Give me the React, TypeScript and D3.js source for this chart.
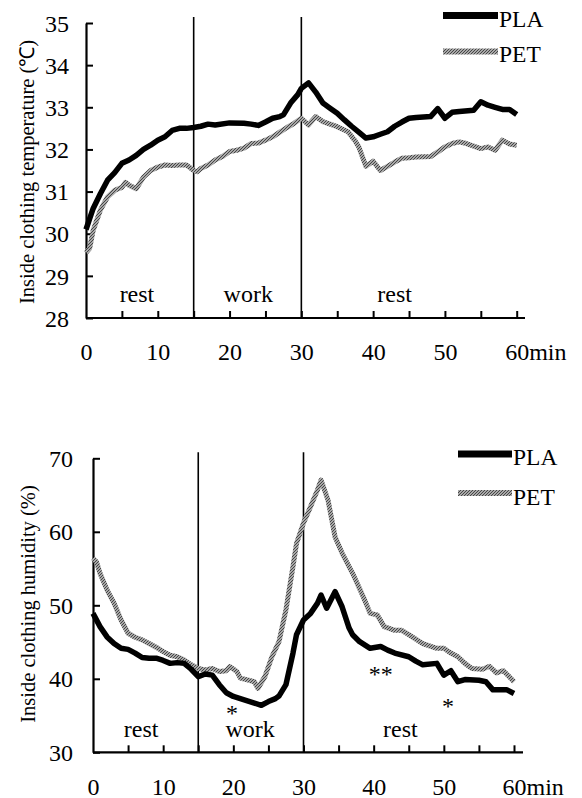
import React, { useEffect, useRef } from "react";
import * as d3 from "d3";

// [minute, value] pairs
const plaTemp: [number, number][] = [
  [0, 30.1], [0.5, 30.35], [1, 30.6], [2, 30.95], [3, 31.27], [4, 31.45], [5, 31.67], [6, 31.75],
  [7, 31.86], [8, 32.0], [9, 32.1], [10, 32.22], [11, 32.3], [12, 32.45], [13, 32.5], [14, 32.5],
  [15, 32.52], [16, 32.55], [17, 32.6], [18, 32.58], [20, 32.63], [22, 32.62], [23, 32.6], [24, 32.57],
  [25, 32.65], [26, 32.74], [27, 32.78], [27.5, 32.82], [28.5, 33.1], [29.5, 33.3], [30, 33.45],
  [31, 33.58], [32, 33.36], [33, 33.1], [34, 32.98], [35, 32.86], [36, 32.7], [37, 32.55], [38, 32.41],
  [39, 32.27], [40, 32.3], [41, 32.36], [42, 32.42], [43, 32.55], [44, 32.65], [45, 32.74], [46, 32.76],
  [48, 32.78], [49, 32.97], [50, 32.74], [51, 32.88], [52, 32.9], [54, 32.93], [55, 33.13], [56, 33.05],
  [57, 33.0], [58, 32.95], [59, 32.95], [60, 32.83],
];

const petTemp: [number, number][] = [
  [0, 29.55], [0.5, 29.65], [1, 30.08], [2, 30.56], [3, 30.87], [4, 31.03], [5, 31.1], [5.5, 31.22],
  [6, 31.15], [7, 31.07], [8, 31.34], [9, 31.5], [10, 31.58], [11, 31.63], [12, 31.62], [13, 31.63],
  [14, 31.63], [15, 31.5], [15.5, 31.47], [16, 31.55], [17, 31.63], [18, 31.75], [19, 31.83], [20, 31.95],
  [21, 31.98], [22, 32.03], [23, 32.14], [24, 32.15], [25, 32.22], [26, 32.3], [27, 32.41], [28, 32.52],
  [29, 32.62], [30, 32.74], [31, 32.58], [32, 32.78], [33, 32.66], [34, 32.6], [35, 32.54], [36.5, 32.42],
  [37.5, 32.2], [38, 32.06], [39, 31.6], [40, 31.72], [41, 31.5], [42, 31.6], [43, 31.7], [44, 31.79],
  [45, 31.8], [46, 31.82], [48, 31.83], [49, 31.94], [50, 32.06], [51, 32.14], [52, 32.18], [53, 32.14],
  [54, 32.08], [55, 32.02], [56, 32.06], [57, 31.98], [58, 32.22], [59, 32.13], [60, 32.1],
];

const plaHum: [number, number][] = [
  [0, 48.9], [1, 47.1], [2, 45.7], [3, 44.8], [4, 44.15], [5, 44.0], [6, 43.5], [7, 42.9], [8, 42.8],
  [9, 42.8], [10, 42.5], [11, 42.1], [12, 42.2], [13, 42.1], [14, 41.3], [15, 40.3], [16, 40.65],
  [17, 40.5], [18, 39.2], [19, 38.1], [20, 37.6], [21, 37.3], [22, 37.0], [23, 36.7], [24, 36.4],
  [25, 36.9], [26, 37.3], [26.5, 37.65], [27.5, 39.2], [28.5, 43.5], [29, 46.0], [30, 48.0], [31, 48.9],
  [32, 50.3], [32.5, 51.4], [33.3, 49.6], [34.5, 51.85], [35.5, 49.8], [36.5, 46.9], [37, 46.0],
  [38, 45.05], [39.5, 44.15], [41, 44.4], [42, 43.9], [43, 43.5], [45, 43.0], [46, 42.4], [47, 41.9],
  [49, 42.1], [50, 40.5], [51, 41.1], [52, 39.6], [53, 39.9], [55, 39.8], [56, 39.6], [57, 38.5],
  [58, 38.5], [59, 38.5], [60, 38.0],
];

const petHum: [number, number][] = [
  [0, 56.4], [0.5, 55.9], [1, 54.35], [2, 52.1], [3, 50.3], [4, 48.0], [5, 46.2], [6, 45.65], [7, 45.3],
  [8, 44.8], [9, 44.3], [10, 43.7], [11, 43.2], [12, 43.0], [13, 42.55], [14, 41.9], [15, 41.4],
  [16, 41.2], [17, 41.4], [18, 41.0], [19, 41.1], [19.5, 41.65], [20.5, 41.0], [21, 40.1], [22, 39.85],
  [23, 39.6], [23.5, 38.7], [24.5, 40.3], [25.5, 43.0], [26.5, 45.05], [27.5, 49.4], [28.5, 55.25],
  [29, 58.4], [29.5, 59.8], [30, 61.2], [31, 63.4], [32, 65.7], [32.5, 67.05], [33.5, 64.3], [34.5, 59.3],
  [35.5, 57.1], [37, 54.35], [38.5, 51.2], [39.5, 48.9], [40.5, 48.7], [41.5, 47.1], [43, 46.6],
  [44, 46.6], [45, 46.0], [47, 44.8], [49, 44.15], [50, 44.15], [51, 43.5], [52, 43.0], [53, 42.1],
  [54, 41.4], [55.5, 41.3], [56.5, 41.7], [57.5, 40.8], [58.5, 41.1], [59.5, 40.1], [60, 39.6],
];

const xTickLabels = [0, 10, 20, 30, 40, 50, 60];
const xMinorTicks = [5, 10, 15, 20, 25, 30, 35, 40, 45, 50, 55, 60];
const phaseBounds = [15, 30];
const tempPhases = [
  { t: 7.1, label: "rest" },
  { t: 22.6, label: "work" },
  { t: 43, label: "rest" },
];
const humPhases = [
  { t: 6.85, label: "rest" },
  { t: 22.4, label: "work" },
  { t: 43.8, label: "rest" },
];
const humMarks = [
  { t: 19.8, v: 35.9, mark: "*" },
  { t: 41, v: 41.2, mark: "**" },
  { t: 50.6, v: 36.9, mark: "*" },
];
const seriesNames = ["PLA", "PET"];

const FONT = "'Liberation Serif', 'Times New Roman', serif";

type Panel = {
  plaData: [number, number][];
  petData: [number, number][];
  yDomain: [number, number];
  xRange: [number, number];
  yRange: [number, number];
  axisEnd: number;
  yLabel: string;
  yLabelX: number;
  yLabelY: number;
  yLabelPad: number;
  xLabelPad: number;
  phases: { t: number; label: string }[];
  phaseOffset: number;
  legend: { x0: number; x1: number; ys: number[]; base: number[] };
  marks: { t: number; v: number; mark: string }[];
};

const panels: Panel[] = [
  {
    plaData: plaTemp,
    petData: petTemp,
    yDomain: [28, 35],
    xRange: [86, 516.7],
    yRange: [318, 23],
    axisEnd: 525,
    yLabel: "Inside clothing temperature (\u2103)",
    yLabelX: 27,
    yLabelY: 172,
    yLabelPad: 17,
    xLabelPad: 25,
    phases: tempPhases,
    phaseOffset: 16,
    legend: { x0: 443, x1: 498, ys: [15.5, 51.5], base: [27, 62] },
    marks: [],
  },
  {
    plaData: plaHum,
    petData: petHum,
    yDomain: [30, 70],
    xRange: [93, 514],
    yRange: [752.3, 458.3],
    axisEnd: 523,
    yLabel: "Inside clothing humidity (%)",
    yLabelX: 28,
    yLabelY: 604,
    yLabelPad: 20,
    xLabelPad: 25.5,
    phases: humPhases,
    phaseOffset: 15,
    legend: { x0: 458, x1: 512, ys: [454, 493], base: [465, 505] },
    marks: humMarks,
  },
];

const App = () => {
  const svgRef = useRef<SVGSVGElement>(null);

  useEffect(() => {
    const root = d3.select(svgRef.current);
    root.selectAll("*").remove();

    // hatched grey texture for PET
    const defs = root.append("defs");
    const pat = defs
      .append("pattern")
      .attr("id", "hatch")
      .attr("patternUnits", "userSpaceOnUse")
      .attr("width", 3)
      .attr("height", 3);
    pat.append("rect").attr("width", 3).attr("height", 3).attr("fill", "#a8a8a8");
    pat
      .append("path")
      .attr("d", "M-1,1 L1,-1 M0,3 L3,0 M2,4 L4,2")
      .attr("stroke", "#454545")
      .attr("stroke-width", 1);

    panels.forEach((p) => {
      const x = d3.scaleLinear().domain([0, 60]).range(p.xRange);
      const y = d3.scaleLinear().domain(p.yDomain).range(p.yRange);
      const g = root.append("g");
      const y0 = p.yRange[0];

      // y axis
      const yTicks = d3.range(p.yDomain[0], p.yDomain[1] + 0.001, p.yDomain[1] - p.yDomain[0] > 10 ? 10 : 1);
      g.append("g")
        .attr("transform", `translate(${p.xRange[0]},0)`)
        .call(d3.axisLeft(y).tickValues(yTicks).tickSizeInner(-7).tickSizeOuter(0).tickPadding(p.yLabelPad).tickFormat(d3.format("d")))
        .attr("font-family", null)
        .attr("font-size", null)
        .call((a) => a.select(".domain").attr("stroke", "#000").attr("stroke-width", 2.2))
        .call((a) => a.selectAll(".tick line").attr("stroke", "#000").attr("stroke-width", 2))
        .call((a) =>
          a.selectAll("text").attr("fill", "#000").style("font-size", "24px").style("font-family", FONT).attr("dy", "0.34em")
        );

      // x axis line + inner ticks
      g.append("line")
        .attr("x1", p.xRange[0])
        .attr("x2", p.axisEnd)
        .attr("y1", y0)
        .attr("y2", y0)
        .attr("stroke", "#000")
        .attr("stroke-width", 2.2);
      g.append("g")
        .attr("transform", `translate(0,${y0})`)
        .call(d3.axisBottom(x).tickValues(xMinorTicks).tickSizeInner(-7).tickSizeOuter(0).tickFormat(() => ""))
        .call((a) => a.select(".domain").remove())
        .call((a) => a.selectAll("text").remove())
        .call((a) => a.selectAll(".tick line").attr("stroke", "#000").attr("stroke-width", 2));
      g.append("g")
        .attr("transform", `translate(0,${y0})`)
        .call(d3.axisBottom(x).tickValues(xTickLabels).tickSize(0).tickPadding(p.xLabelPad).tickFormat(d3.format("d")))
        .attr("font-family", null)
        .attr("font-size", null)
        .call((a) => a.select(".domain").remove())
        .call((a) => a.selectAll("text").attr("fill", "#000").style("font-size", "24px").style("font-family", FONT))
        .call((a) =>
          a
            .selectAll<SVGTextElement, number>("text")
            .filter((d) => d === 60)
            .attr("text-anchor", "start")
            .attr("x", -12)
            .text("60min")
        );

      // phase boundaries
      g.selectAll(".bound")
        .data(phaseBounds)
        .join("line")
        .attr("x1", (d) => x(d))
        .attr("x2", (d) => x(d))
        .attr("y1", y0)
        .attr("y2", p.yRange[1] - 6)
        .attr("stroke", "#000")
        .attr("stroke-width", 1.6);

      // phase labels
      g.selectAll(".phase")
        .data(p.phases)
        .join("text")
        .attr("x", (d) => x(d.t))
        .attr("y", y0 - p.phaseOffset)
        .attr("text-anchor", "middle")
        .style("font-family", FONT)
        .style("font-size", "24px")
        .text((d) => d.label);

      // significance marks
      g.selectAll(".mark")
        .data(p.marks)
        .join("text")
        .attr("x", (d) => x(d.t))
        .attr("y", (d) => y(d.v) + 12)
        .attr("text-anchor", "middle")
        .style("font-family", FONT)
        .style("font-size", "24px")
        .text((d) => d.mark);

      const line = d3
        .line<[number, number]>()
        .x((d) => x(d[0]))
        .y((d) => y(d[1]))
        .curve(d3.curveLinear);

      g.append("path")
        .datum(p.petData)
        .attr("fill", "none")
        .attr("stroke", "url(#hatch)")
        .attr("stroke-width", 5)
        .attr("stroke-linejoin", "round")
        .attr("d", line);

      g.append("path")
        .datum(p.plaData)
        .attr("fill", "none")
        .attr("stroke", "#000")
        .attr("stroke-width", 5.5)
        .attr("stroke-linejoin", "round")
        .attr("d", line);

      // legend
      seriesNames.forEach((name, i) => {
        g.append("line")
          .attr("x1", p.legend.x0)
          .attr("x2", p.legend.x1)
          .attr("y1", p.legend.ys[i])
          .attr("y2", p.legend.ys[i])
          .attr("stroke", i === 0 ? "#000" : "url(#hatch)")
          .attr("stroke-width", i === 0 ? 7 : 6);
        g.append("text")
          .attr("x", p.legend.x1 + 1)
          .attr("y", p.legend.base[i])
          .style("font-family", FONT)
          .style("font-size", "23.5px")
          .text(name);
      });

      // y label
      g.append("text")
        .attr("transform", `translate(${p.yLabelX},${p.yLabelY}) rotate(-90)`)
        .attr("text-anchor", "middle")
        .attr("dominant-baseline", "central")
        .style("font-family", FONT)
        .style("font-size", "20.5px")
        .text(p.yLabel);
    });
  }, []);

  return (
    <svg
      ref={svgRef}
      width={582}
      height={798}
      style={{ position: "absolute", left: 0, top: 0, background: "#fff", fontFamily: FONT }}
    />
  );
};

export default App;
